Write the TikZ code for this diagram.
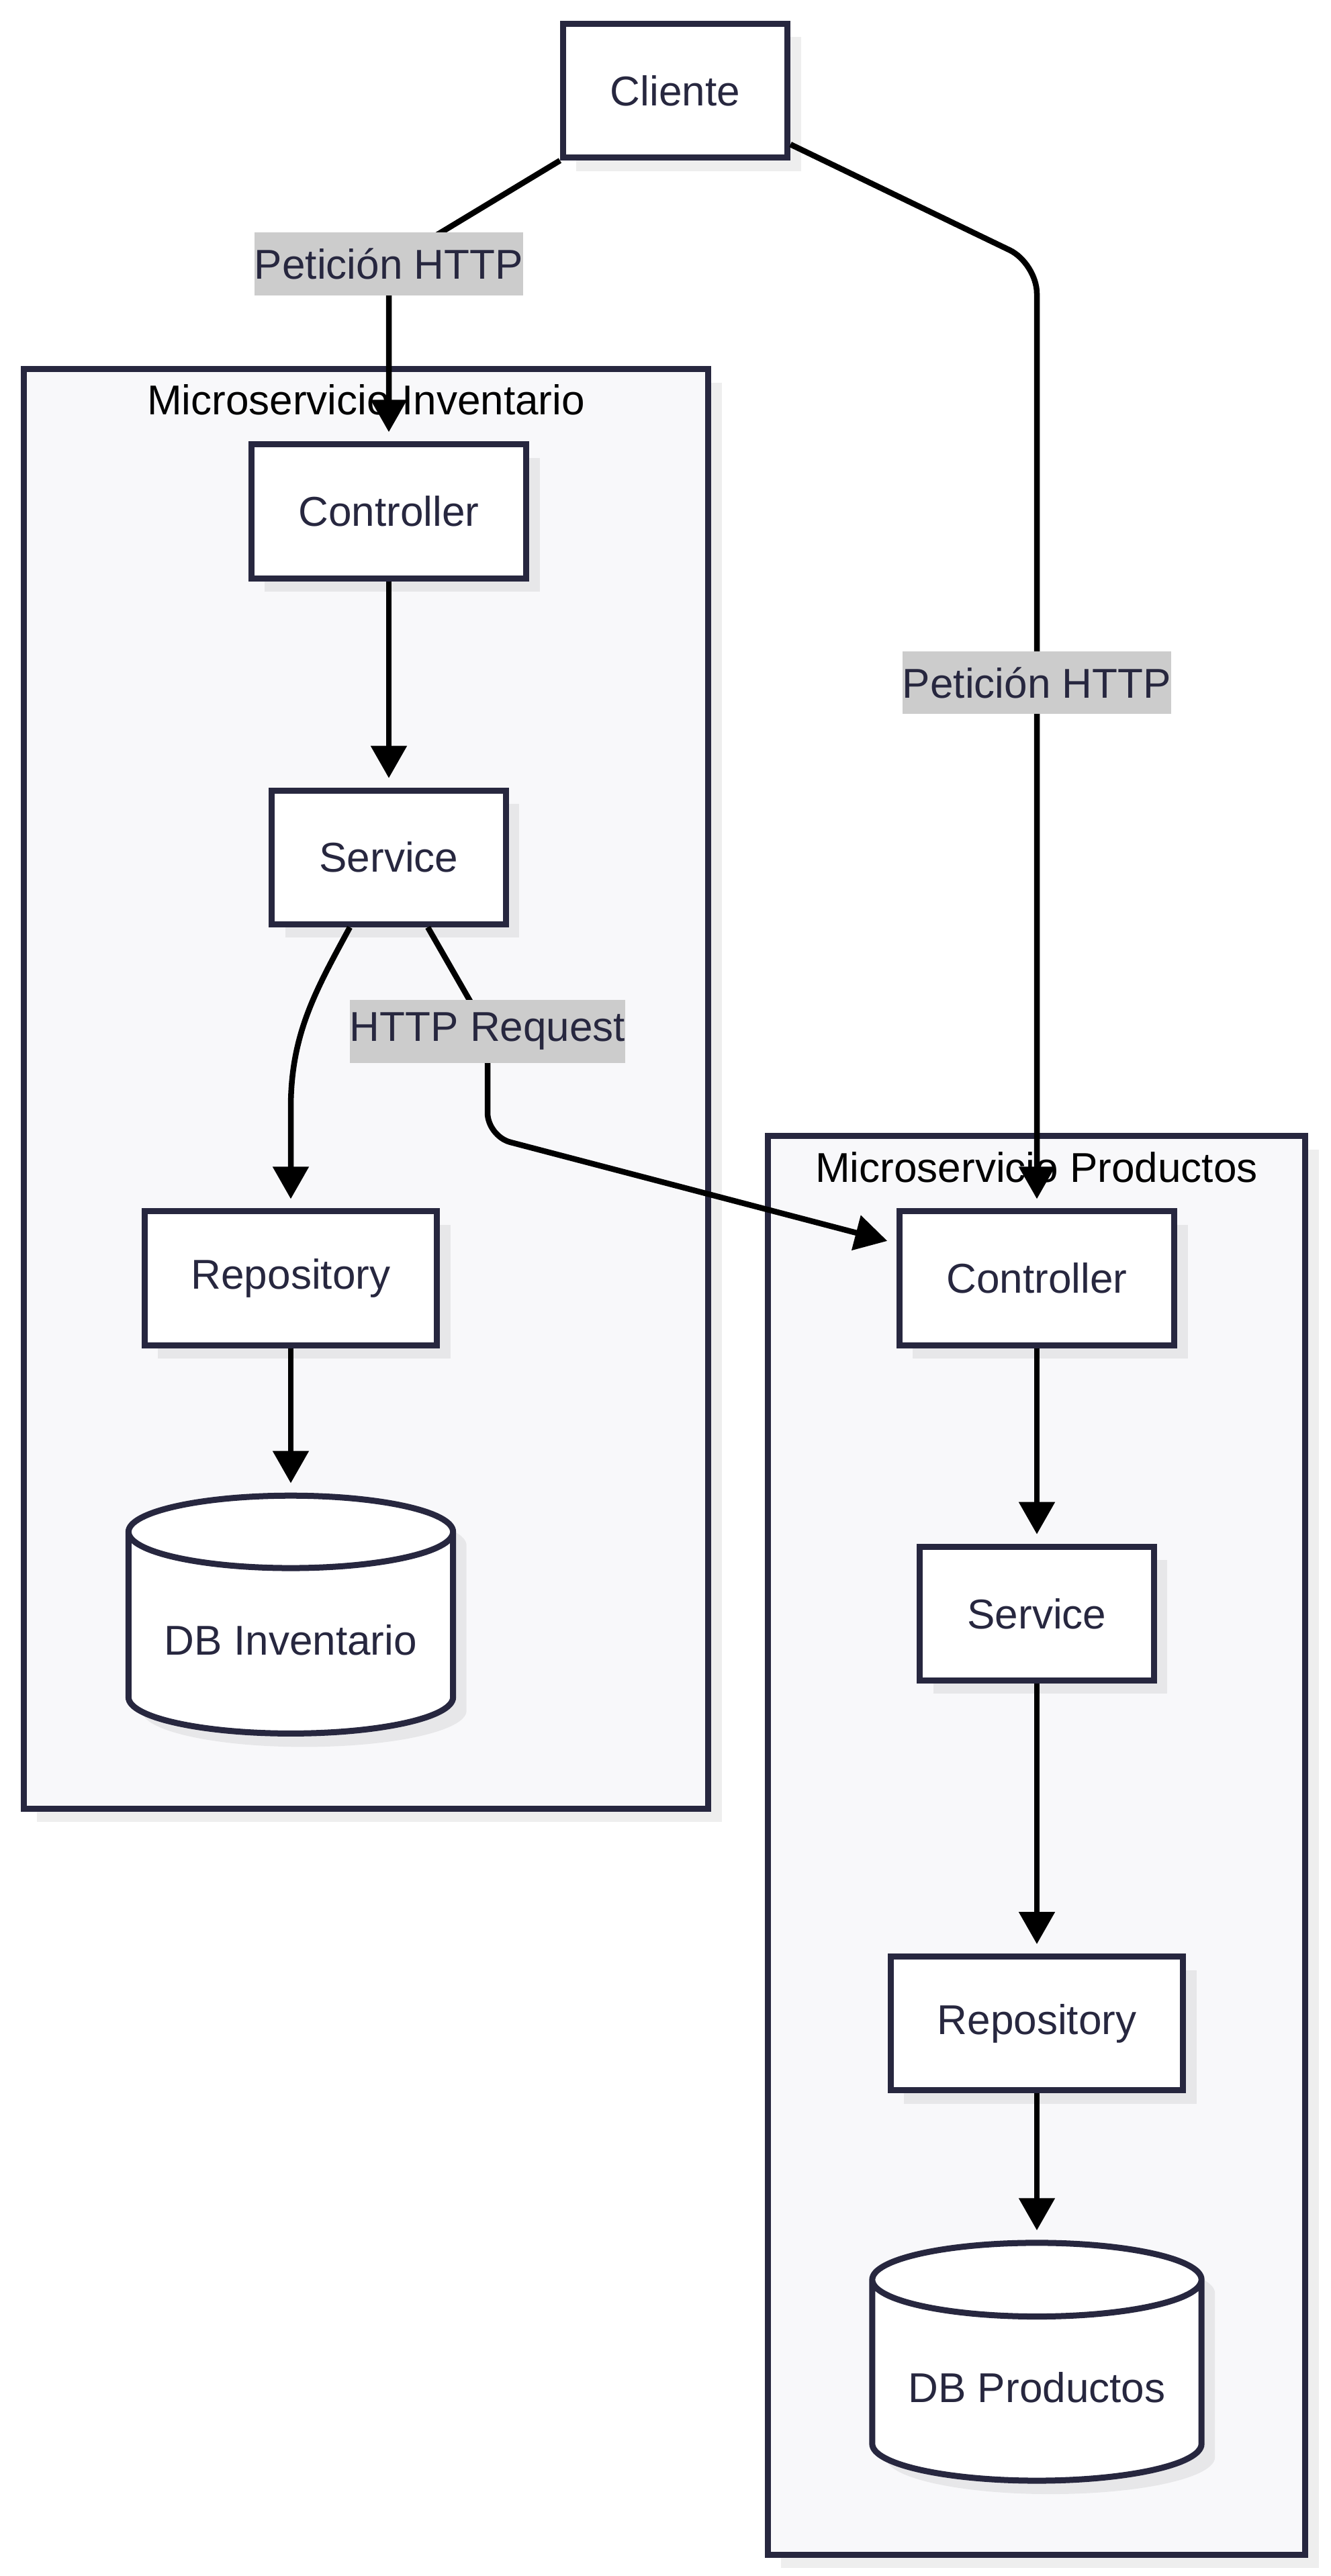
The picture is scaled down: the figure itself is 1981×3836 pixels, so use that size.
\documentclass[tikz,border=0pt]{standalone}
\usepackage{fontspec}
\setmainfont{Liberation Sans}
\usepackage{tikz}
\usetikzlibrary{positioning, arrows.meta, shapes.geometric, shadows}

\definecolor{ink}{RGB}{39,39,63}
\definecolor{clusterbg}{RGB}{248,248,250}
\definecolor{lblgray}{RGB}{204,204,204}
\newcommand{\diafont}{\fontsize{17.65}{21}\selectfont}

\tikzset{
    softshadow/.style={drop shadow={shadow xshift=0.2cm, shadow yshift=-0.2cm, fill=black, opacity=0.065}},
    box/.style={draw=ink, line width=0.09cm, fill=white, text=ink, font=\diafont, minimum height=1.99cm, softshadow},
    db/.style={cylinder, shape border rotate=90, aspect=0.27, draw=ink, line width=0.09cm, fill=white, text=ink, font=\diafont, minimum height=3.54cm, softshadow},
    cluster/.style={draw=ink, line width=0.09cm, fill=clusterbg, softshadow},
    lbl/.style={sharp corners, fill=lblgray, text=ink, font=\diafont, inner xsep=0pt, minimum height=0.93cm},
    edge/.style={line width=0.085cm, -{Triangle[length=0.48cm, width=0.52cm]}, shorten >=0.14cm},
}

\begin{document}
\begin{tikzpicture}[x=0.01cm, y=-0.01cm]
    \useasboundingbox (0,0) rectangle (1981,3836);
    % Subgraphs
    \node (inv) [cluster, minimum width=10.19cm, minimum height=21.42cm] at (545,1621.5) {};
    \node (invname) [font=\diafont, anchor=base] at (545,617) {Microservicio Inventario};
    \node (prod) [cluster, minimum width=8.00cm, minimum height=21.11cm] at (1543.5,2748) {};
    \node (prodname) [font=\diafont, anchor=base] at (1543.5,1760) {Microservicio Productos};

    \node (cli) [box, minimum width=3.34cm] at (1005.5,135) {Cliente};

    % Inventario
    \node (ictrl) [box, minimum width=4.09cm] at (579,761.5) {Controller};
    \node (isrv) [box, minimum width=3.48cm, below=3.07cm of ictrl] {Service};
    \node (irepo) [box, minimum width=4.35cm] at (433,1903.5) {Repository};
    \node (idb) [db, minimum width=4.83cm, below=2.15cm of irepo] {DB Inventario};

    % Productos
    \node (pctrl) [box, minimum width=4.09cm] at (1544,1903.5) {Controller};
    \node (psrv) [box, minimum width=3.48cm, below=2.91cm of pctrl] {Service};
    \node (prepo) [box, minimum width=4.35cm, below=4.02cm of psrv] {Repository};
    \node (pdb) [db, minimum width=4.90cm, below=2.18cm of prepo] {DB Productos};

    % Bends of the longer edges
    \coordinate (viaA) at (579,393);
    \coordinate (viaB) at (1544,392);
    \coordinate (viaC) at (726,1536);
    \coordinate (viaD) at (726,1692);

    \draw [edge] (cli.south west) -- (viaA) node [lbl] (lbla) {Petición HTTP} -- (ictrl.north);
    \draw [edge, rounded corners=0.45cm] ([yshift=0.24cm]cli.south east) -- (viaB) -- node [lbl, pos=0.444] (lblb) {Petición HTTP} (pctrl.north);
    \draw [edge] (ictrl.south) -- (isrv.north);
    \draw [edge] ([xshift=-0.58cm]isrv.south) .. controls (470,1475) and (433,1540) .. (433,1650) -- (irepo.north);
    \draw [edge, rounded corners=0.35cm] ([xshift=0.58cm]isrv.south) -- (viaC) node [lbl] (lblc) {HTTP Request} -- (viaD) -- ([yshift=0.52cm]pctrl.west);
    \draw [edge] (irepo.south) -- (idb.north);
    \draw [edge] (pctrl.south) -- (psrv.north);
    \draw [edge] (psrv.south) -- (prepo.north);
    \draw [edge] (prepo.south) -- (pdb.north);
\end{tikzpicture}
\end{document}
